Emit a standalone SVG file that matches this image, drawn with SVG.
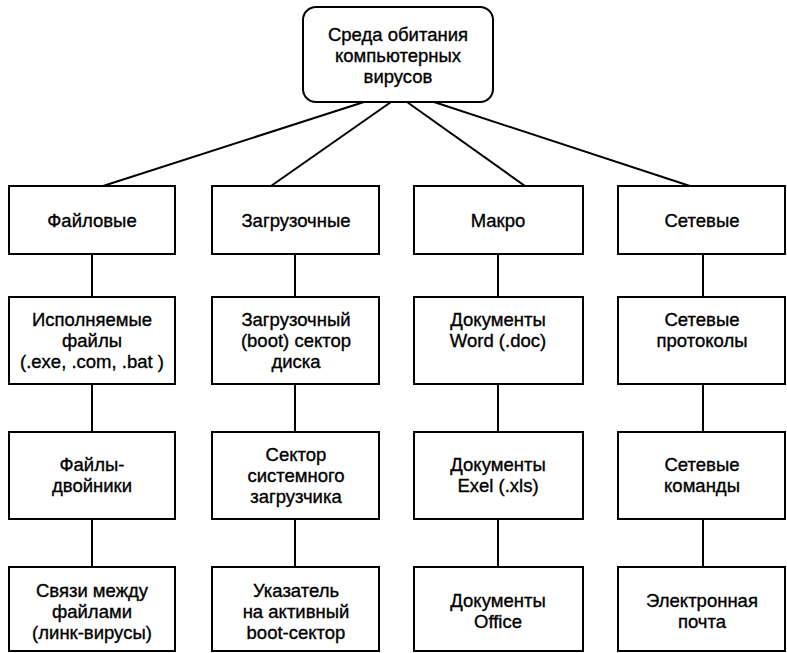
<svg xmlns="http://www.w3.org/2000/svg" width="787" height="653" viewBox="0 0 787 653">
<style>
.box{fill:#fff;stroke:#000;stroke-width:2}
.t{font-family:"Liberation Sans",Arial,sans-serif;font-size:18.5px;fill:#000;stroke:#000;stroke-width:0.35;text-anchor:middle}
.c{stroke:#000;stroke-width:2;fill:none}
</style>
<rect width="787" height="653" fill="#fff"/>
<g id="connectors">
<line class="c" x1="364" y1="102" x2="103" y2="186"/>
<line class="c" x1="391" y1="102" x2="271" y2="186"/>
<line class="c" x1="407" y1="102" x2="525" y2="186"/>
<line class="c" x1="434" y1="102" x2="690" y2="186"/>
<line class="c" x1="92" y1="254" x2="92" y2="297"/>
<line class="c" x1="92" y1="384" x2="92" y2="432"/>
<line class="c" x1="92" y1="519" x2="92" y2="567"/>
<line class="c" x1="295" y1="254" x2="295" y2="297"/>
<line class="c" x1="295" y1="384" x2="295" y2="432"/>
<line class="c" x1="295" y1="519" x2="295" y2="567"/>
<line class="c" x1="498" y1="254" x2="498" y2="297"/>
<line class="c" x1="498" y1="384" x2="498" y2="432"/>
<line class="c" x1="498" y1="519" x2="498" y2="567"/>
<line class="c" x1="703" y1="254" x2="703" y2="297"/>
<line class="c" x1="703" y1="384" x2="703" y2="432"/>
<line class="c" x1="703" y1="519" x2="703" y2="567"/>
</g>
<g id="root">
<rect class="box" x="303" y="7" width="190" height="95" rx="13"/>
<text class="t" x="398" y="41">Среда обитания</text>
<text class="t" x="398" y="62">компьютерных</text>
<text class="t" x="398" y="83">вирусов</text>
</g>
<g id="files">
<rect class="box" x="9" y="186" width="166" height="68"/>
<text class="t" x="92" y="227">Файловые</text>
</g>
<g id="boot">
<rect class="box" x="212" y="186" width="167" height="68"/>
<text class="t" x="296" y="227">Загрузочные</text>
</g>
<g id="macro">
<rect class="box" x="414" y="186" width="169" height="68"/>
<text class="t" x="498" y="227">Макро</text>
</g>
<g id="net">
<rect class="box" x="618" y="186" width="167" height="68"/>
<text class="t" x="702" y="227">Сетевые</text>
</g>
<g id="files2">
<rect class="box" x="9" y="297" width="166" height="87"/>
<text class="t" x="92" y="326">Исполняемые</text>
<text class="t" x="92" y="347">файлы</text>
<text class="t" x="92" y="368">(.exe, .com, .bat )</text>
</g>
<g id="boot2">
<rect class="box" x="212" y="297" width="167" height="87"/>
<text class="t" x="296" y="326">Загрузочный</text>
<text class="t" x="296" y="347">(boot) сектор</text>
<text class="t" x="296" y="368">диска</text>
</g>
<g id="macro2">
<rect class="box" x="414" y="297" width="169" height="87"/>
<text class="t" x="498" y="326">Документы</text>
<text class="t" x="498" y="347">Word (.doc)</text>
</g>
<g id="net2">
<rect class="box" x="618" y="297" width="167" height="87"/>
<text class="t" x="702" y="326">Сетевые</text>
<text class="t" x="702" y="347">протоколы</text>
</g>
<g id="files3">
<rect class="box" x="9" y="432" width="166" height="87"/>
<text class="t" x="92" y="471">Файлы-</text>
<text class="t" x="92" y="492">двойники</text>
</g>
<g id="boot3">
<rect class="box" x="212" y="432" width="167" height="87"/>
<text class="t" x="296" y="461">Сектор</text>
<text class="t" x="296" y="482">системного</text>
<text class="t" x="296" y="503">загрузчика</text>
</g>
<g id="macro3">
<rect class="box" x="414" y="432" width="169" height="87"/>
<text class="t" x="498" y="471">Документы</text>
<text class="t" x="498" y="492">Exel (.xls)</text>
</g>
<g id="net3">
<rect class="box" x="618" y="432" width="167" height="87"/>
<text class="t" x="702" y="471">Сетевые</text>
<text class="t" x="702" y="492">команды</text>
</g>
<g id="files4">
<rect class="box" x="9" y="567" width="166" height="84"/>
<text class="t" x="92" y="597">Связи между</text>
<text class="t" x="92" y="618">файлами</text>
<text class="t" x="92" y="639">(линк-вирусы)</text>
</g>
<g id="boot4">
<rect class="box" x="212" y="567" width="167" height="84"/>
<text class="t" x="296" y="597">Указатель</text>
<text class="t" x="296" y="618">на активный</text>
<text class="t" x="296" y="639">boot-сектор</text>
</g>
<g id="macro4">
<rect class="box" x="414" y="567" width="169" height="84"/>
<text class="t" x="498" y="607">Документы</text>
<text class="t" x="498" y="628">Office</text>
</g>
<g id="net4">
<rect class="box" x="618" y="567" width="167" height="84"/>
<text class="t" x="702" y="607">Электронная</text>
<text class="t" x="702" y="628">почта</text>
</g>
</svg>
